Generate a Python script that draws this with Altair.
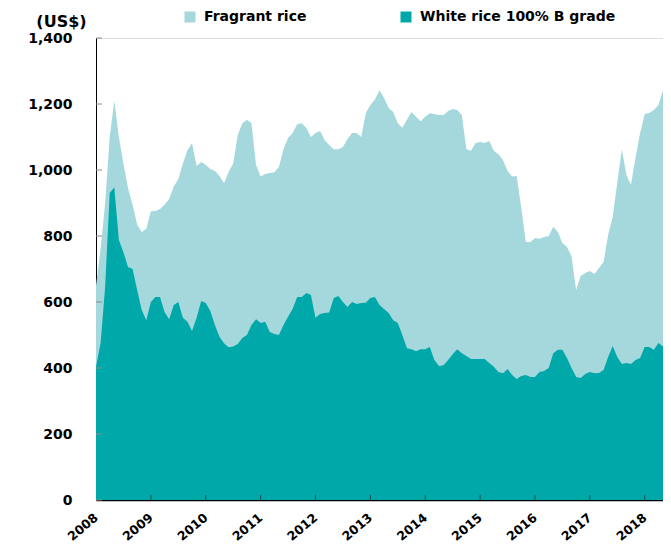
import altair as alt
import pandas as pd

series_names = ["Fragrant rice", "White rice 100% B grade"]
start_year = 2008

fragrant = [
    650, 760, 900, 1100, 1210, 1100, 1020, 945, 895, 835, 812, 822,
    875, 876, 882, 895, 912, 950, 972, 1020, 1060, 1082, 1012, 1024,
    1015, 1003, 997, 982, 960, 994, 1020, 1106, 1142, 1152, 1142, 1015,
    980, 988, 991, 993, 1009, 1063, 1097, 1112, 1139, 1142, 1127, 1100,
    1112, 1118, 1091, 1076, 1063, 1063, 1070, 1094, 1112, 1112, 1100, 1172,
    1197, 1214, 1242, 1218, 1188, 1176, 1142, 1128, 1152, 1176, 1161, 1148,
    1161, 1172, 1170, 1167, 1167, 1179, 1185, 1182, 1167, 1063, 1058, 1082,
    1085, 1082, 1088, 1058, 1048, 1030, 997, 980, 982, 885, 782, 782,
    794, 792, 797, 800, 828, 812, 779, 767, 739, 636, 679, 688,
    694, 685, 703, 721, 803, 858, 961, 1063, 985, 955, 1039, 1112,
    1170, 1173, 1182, 1197, 1242,
]

white = [
    404, 475, 646, 930, 948, 788, 751, 706, 700, 636, 576, 545,
    600, 615, 615, 570, 548, 591, 600, 552, 540, 512, 552, 603,
    597, 573, 530, 495, 475, 463, 465, 473, 491, 500, 530, 548,
    536, 540, 509, 503, 500, 530, 555, 579, 615, 615, 627, 621,
    552, 564, 567, 568, 612, 618, 600, 585, 600, 594, 597, 598,
    612, 615, 591, 579, 567, 545, 536, 500, 460, 457, 451, 457,
    457, 464, 424, 406, 408, 424, 442, 457, 445, 436, 427, 427,
    427, 427, 415, 404, 388, 384, 397, 379, 367, 376, 379, 373,
    373, 388, 391, 400, 445, 455, 455, 430, 400, 373, 370, 382,
    388, 384, 385, 394, 433, 467, 433, 412, 415, 412, 424, 430,
    464, 464, 455, 476, 465,
]

year_ticks = list(range(2008, 2019))
y_ticks = list(range(0, 1401, 200))

n = min(len(fragrant), len(white))
rows = []
for i in range(n):
    t = start_year + i / 12.0
    rows.append({"t": t, "series": series_names[0], "price": fragrant[i]})
    rows.append({"t": t, "series": series_names[1], "price": white[i]})
df = pd.DataFrame(rows)
x_end = start_year + (n - 1) / 12.0

FONT = "DejaVu Sans"
W, H = 567, 462

xscale = alt.Scale(domain=[start_year, x_end], nice=False, zero=False)
yscale = alt.Scale(domain=[0, 1400], nice=False)

areas = alt.Chart(df).mark_area(interpolate="linear").encode(
    x=alt.X("t:Q", scale=xscale,
            axis=alt.Axis(values=year_ticks, format="d", title=None, grid=False,
                          ticks=False, labelAngle=-40, labelAlign="right",
                          labelBaseline="top", labelPadding=11, labelOffset=-4,
                          labelFont=FONT, labelFontSize=12.5, labelFontWeight="bold",
                          labelColor="#000000", domainColor="#000000",
                          domainWidth=1.5, labelFlush=False, labelOverlap=False)),
    y=alt.Y("price:Q", stack=None, scale=yscale,
            axis=alt.Axis(values=y_ticks, format=",.0f", grid=False, ticks=False,
                          title="(US$)", titleAngle=0, titleX=-35, titleY=-17,
                          titleAlign="center", titleBaseline="middle",
                          titleFont=FONT, titleFontSize=16, titleFontWeight="bold",
                          titleColor="#000000",
                          labelPadding=24, labelFont=FONT, labelFontSize=14,
                          labelFontWeight="bold", labelColor="#000000",
                          domainColor="#000000", domainWidth=1)),
    color=alt.Color("series:N",
                    scale=alt.Scale(domain=series_names, range=["#a5d8dc", "#00a8a9"]),
                    legend=alt.Legend(title=None, orient="none", legendX=87, legendY=-28,
                                      direction="horizontal", columns=2, columnPadding=92,
                                      symbolType="square", symbolSize=121,
                                      symbolStrokeWidth=0, labelOffset=7, labelLimit=0,
                                      labelFont=FONT, labelFontSize=14,
                                      labelFontWeight="bold", labelColor="#000000",
                                      padding=0)),
    order=alt.Order("series:N"),
)

ytick_df = pd.DataFrame({"v": y_ticks})
yticks = alt.Chart(ytick_df).mark_rule(color="#8c8c8c", strokeWidth=1).encode(
    y=alt.Y("v:Q", scale=yscale),
    x=alt.value(0), x2=alt.value(6),
)

xtick_df = pd.DataFrame({"v": year_ticks[1:]})
xticks = alt.Chart(xtick_df).mark_rule(color="#1a4f4f", strokeWidth=1).encode(
    x=alt.X("v:Q", scale=xscale),
    y=alt.value(H - 5), y2=alt.value(H),
)

chart = alt.layer(areas, yticks, xticks).properties(
    width=W, height=H,
    padding={"left": 88, "top": 30, "right": 0, "bottom": 50},
    autosize=alt.AutoSizeParams(type="none"),
).configure_view(stroke=None).configure(background="#ffffff")

chart.save("out.html", embed_options={"renderer": "svg", "actions": False})
